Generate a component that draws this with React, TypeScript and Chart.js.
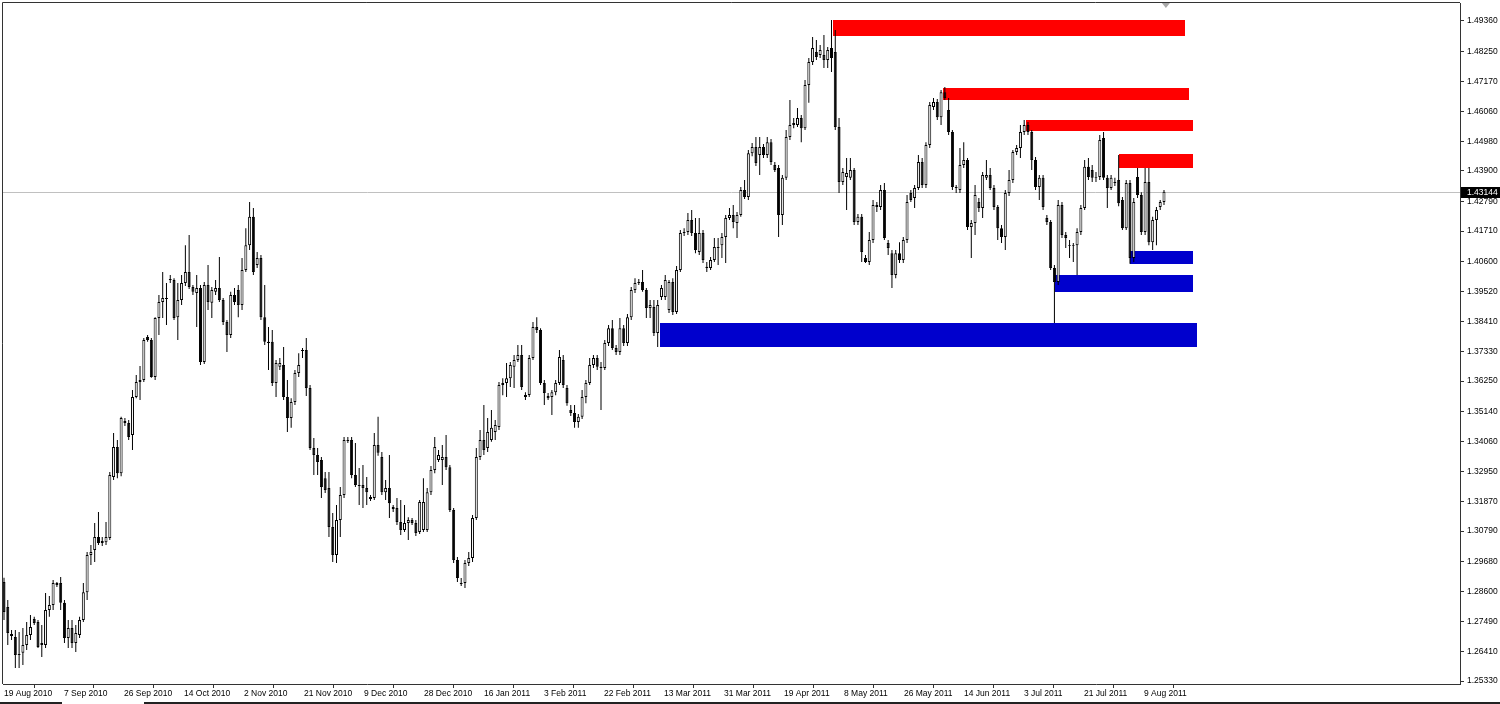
import { useEffect, useRef } from "react";
import { Chart, registerables } from "chart.js";

Chart.register(...registerables);

// ---- OHLC series (EURUSD daily, Aug 2010 - Aug 2011) ----
const openPrices = [
  1.2894,1.2803,1.2705,1.2694,1.2628,1.2636,1.2665,1.2701,1.2759,1.2748,
  1.2665,1.2665,1.2792,1.2810,1.2890,1.2890,1.2818,1.2690,1.2726,1.2672,
  1.2701,1.2756,1.2857,1.2992,1.3010,1.3058,1.3036,1.3039,1.3054,1.3276,
  1.3385,1.3290,1.3480,1.3473,1.3429,1.3567,1.3622,1.3629,1.3786,1.3775,
  1.3640,1.3855,1.3913,1.3924,1.3993,1.3993,1.3858,1.3920,1.3982,1.4022,
  1.3968,1.3946,1.3964,1.3695,1.3975,1.3910,1.3950,1.3964,1.3920,1.3840,
  1.3793,1.3939,1.3957,1.3902,1.4030,1.4120,1.4223,1.4048,1.4073,1.3858,
  1.3764,1.3768,1.3618,1.3677,1.3684,1.3567,1.3491,1.3549,1.3655,1.3735,
  1.3738,1.3600,1.3382,1.3356,1.3338,1.3272,1.3236,1.3094,1.2992,1.3120,
  1.3211,1.3407,1.3411,1.3283,1.3243,1.3247,1.3236,1.3203,1.3200,1.3393,
  1.3349,1.3221,1.3236,1.3167,1.3163,1.3112,1.3083,1.3109,1.3120,1.3109,
  1.3076,1.3083,1.3083,1.3221,1.3302,1.3338,1.3338,1.3349,1.3312,1.3156,
  1.2974,1.2887,1.2890,1.2963,1.2981,1.3127,1.3349,1.3411,1.3382,1.3411,
  1.3440,1.3458,1.3611,1.3618,1.3636,1.3677,1.3702,1.3720,1.3575,1.3575,
  1.3709,1.3822,1.3811,1.3618,1.3571,1.3567,1.3585,1.3618,1.3702,1.3600,
  1.3520,1.3509,1.3476,1.3495,1.3567,1.3618,1.3684,1.3709,1.3673,1.3673,
  1.3764,1.3818,1.3746,1.3731,1.3818,1.3764,1.3858,1.3957,1.3982,1.3986,
  1.3957,1.3891,1.3895,1.3800,1.3931,1.3931,1.3884,1.3986,1.3877,1.4030,
  1.4164,1.4168,1.4212,1.4164,1.4095,1.4164,1.4041,1.4037,1.4066,1.4110,
  1.4120,1.4150,1.4219,1.4230,1.4201,1.4230,1.4321,1.4295,1.4455,1.4477,
  1.4448,1.4477,1.4448,1.4495,1.4412,1.4401,1.4230,1.4365,1.4514,1.4557,
  1.4557,1.4583,1.4546,1.4703,1.4787,1.4823,1.4812,1.4812,1.4794,1.4838,
  1.4823,1.4550,1.4350,1.4368,1.4365,1.4394,1.4204,1.4223,1.4073,1.4059,
  1.4139,1.4259,1.4259,1.4321,1.4128,1.4091,1.4011,1.4091,1.4066,1.4139,
  1.4310,1.4292,1.4328,1.4423,1.4339,1.4485,1.4623,1.4641,1.4586,1.4677,
  1.4612,1.4532,1.4332,1.4321,1.4412,1.4430,1.4186,1.4201,1.4277,1.4255,
  1.4365,1.4375,1.4328,1.4259,1.4182,1.4150,1.4310,1.4357,1.4459,1.4474,
  1.4532,1.4557,1.4532,1.4430,1.4332,1.4365,1.4219,1.4204,1.4037,1.3986,
  1.4266,1.4157,1.4117,1.4117,1.4120,1.4168,1.4255,1.4405,1.4394,1.4365,
  1.4368,1.4510,1.4365,1.4328,1.4346,1.4357,1.4284,1.4182,1.4346,1.4073,
  1.4368,1.4303,1.4168,1.4350,1.4131,1.4212,1.4259,1.4277,
];

const highPrices = [
  1.2909,1.2828,1.2719,1.2719,1.2712,1.2726,1.2748,1.2774,1.2767,1.2756,
  1.2737,1.2854,1.2843,1.2901,1.2894,1.2912,1.2828,1.2756,1.2756,1.2737,
  1.2767,1.2890,1.3003,1.3029,1.3109,1.3149,1.3058,1.3112,1.3294,1.3436,
  1.3411,1.3495,1.3491,1.3484,1.3593,1.3647,1.3680,1.3782,1.3793,1.3782,
  1.3858,1.3939,1.4022,1.3982,1.4011,1.4000,1.3982,1.4011,1.4120,1.4157,
  1.3975,1.4011,1.3975,1.3986,1.4048,1.3968,1.3993,1.4077,1.3928,1.3848,
  1.3950,1.3964,1.3975,1.4073,1.4182,1.4277,1.4255,1.4095,1.4084,1.3975,
  1.3822,1.3811,1.3702,1.3709,1.3749,1.3629,1.3563,1.3666,1.3727,1.3746,
  1.3782,1.3611,1.3418,1.3382,1.3349,1.3294,1.3294,1.3145,1.3174,1.3240,
  1.3422,1.3422,1.3422,1.3400,1.3309,1.3320,1.3276,1.3211,1.3436,1.3495,
  1.3367,1.3265,1.3356,1.3174,1.3200,1.3192,1.3174,1.3130,1.3127,1.3120,
  1.3192,1.3272,1.3236,1.3316,1.3422,1.3374,1.3393,1.3429,1.3320,1.3163,
  1.2985,1.2908,1.2974,1.3003,1.3138,1.3382,1.3447,1.3538,1.3491,1.3520,
  1.3484,1.3622,1.3636,1.3691,1.3695,1.3720,1.3757,1.3757,1.3585,1.3720,
  1.3840,1.3858,1.3818,1.3629,1.3582,1.3593,1.3629,1.3738,1.3720,1.3611,
  1.3538,1.3538,1.3505,1.3593,1.3629,1.3709,1.3720,1.3720,1.3695,1.3775,
  1.3829,1.3848,1.3757,1.3855,1.3829,1.3869,1.3968,1.4000,1.3997,1.4030,
  1.3964,1.3920,1.3920,1.3920,1.3975,1.4011,1.3993,1.4000,1.4044,1.4175,
  1.4182,1.4237,1.4248,1.4219,1.4219,1.4175,1.4059,1.4077,1.4146,1.4146,
  1.4164,1.4230,1.4255,1.4266,1.4241,1.4332,1.4357,1.4466,1.4492,1.4514,
  1.4514,1.4488,1.4514,1.4506,1.4423,1.4412,1.4375,1.4539,1.4648,1.4583,
  1.4619,1.4594,1.4721,1.4801,1.4878,1.4867,1.4849,1.4885,1.4841,1.4940,
  1.4903,1.4583,1.4401,1.4437,1.4437,1.4401,1.4233,1.4233,1.4084,1.4168,
  1.4284,1.4277,1.4339,1.4346,1.4139,1.4102,1.4102,1.4131,1.4150,1.4303,
  1.4321,1.4339,1.4448,1.4437,1.4495,1.4641,1.4656,1.4652,1.4685,1.4696,
  1.4656,1.4539,1.4339,1.4474,1.4495,1.4437,1.4212,1.4339,1.4292,1.4386,
  1.4430,1.4401,1.4339,1.4266,1.4193,1.4321,1.4394,1.4466,1.4485,1.4557,
  1.4576,1.4568,1.4539,1.4441,1.4375,1.4375,1.4230,1.4212,1.4048,1.4284,
  1.4277,1.4168,1.4139,1.4128,1.4182,1.4266,1.4430,1.4437,1.4412,1.4386,
  1.4521,1.4532,1.4375,1.4375,1.4365,1.4448,1.4295,1.4357,1.4357,1.4292,
  1.4401,1.4313,1.4401,1.4401,1.4223,1.4259,1.4284,1.4321,
];

const lowPrices = [
  1.2756,1.2665,1.2683,1.2581,1.2581,1.2592,1.2646,1.2683,1.2737,1.2654,
  1.2621,1.2654,1.2767,1.2792,1.2876,1.2792,1.2672,1.2654,1.2654,1.2639,
  1.2690,1.2748,1.2828,1.2956,1.2967,1.3029,1.3025,1.3029,1.3047,1.3265,
  1.3272,1.3279,1.3462,1.3411,1.3374,1.3563,1.3556,1.3622,1.3768,1.3637,
  1.3629,1.3793,1.3855,1.3829,1.3982,1.3848,1.3775,1.3902,1.3971,1.3960,
  1.3939,1.3822,1.3684,1.3687,1.3884,1.3855,1.3939,1.3913,1.3829,1.3731,
  1.3782,1.3902,1.3858,1.3884,1.4022,1.4102,1.4011,1.4037,1.3848,1.3757,
  1.3666,1.3607,1.3567,1.3666,1.3556,1.3440,1.3455,1.3538,1.3640,1.3709,
  1.3571,1.3374,1.3283,1.3283,1.3200,1.3218,1.3058,1.2967,1.2963,1.3058,
  1.3200,1.3400,1.3272,1.3240,1.3174,1.3163,1.3174,1.3189,1.3192,1.3353,
  1.3211,1.3192,1.3127,1.3149,1.3101,1.3065,1.3076,1.3047,1.3101,1.3061,
  1.3069,1.3076,1.3076,1.3211,1.3290,1.3331,1.3247,1.3302,1.3149,1.2963,
  1.2894,1.2879,1.2872,1.2952,1.2967,1.3120,1.3338,1.3356,1.3367,1.3404,
  1.3411,1.3447,1.3574,1.3567,1.3604,1.3600,1.3695,1.3593,1.3556,1.3567,
  1.3702,1.3800,1.3611,1.3538,1.3556,1.3502,1.3574,1.3611,1.3600,1.3535,
  1.3498,1.3455,1.3455,1.3487,1.3545,1.3611,1.3673,1.3666,1.3520,1.3666,
  1.3753,1.3738,1.3720,1.3720,1.3753,1.3753,1.3848,1.3946,1.3975,1.3950,
  1.3855,1.3855,1.3789,1.3749,1.3920,1.3920,1.3873,1.3866,1.3869,1.4022,
  1.4153,1.4157,1.4153,1.4091,1.4084,1.4055,1.4022,1.4030,1.4059,1.4048,
  1.4073,1.4055,1.4212,1.4182,1.4146,1.4223,1.4288,1.4284,1.4444,1.4408,
  1.4375,1.4437,1.4437,1.4412,1.4386,1.4150,1.4193,1.4357,1.4503,1.4546,
  1.4550,1.4495,1.4539,1.4638,1.4776,1.4794,1.4801,1.4765,1.4765,1.4750,
  1.4539,1.4310,1.4339,1.4248,1.4357,1.4193,1.4193,1.4059,1.4055,1.4048,
  1.4128,1.4241,1.4248,1.4139,1.4084,1.3964,1.4000,1.4055,1.4055,1.4128,
  1.4277,1.4255,1.4321,1.4328,1.4328,1.4474,1.4612,1.4576,1.4557,1.4648,
  1.4521,1.4321,1.4310,1.4310,1.4401,1.4175,1.4073,1.4157,1.4241,1.4219,
  1.4357,1.4321,1.4248,1.4139,1.4128,1.4102,1.4299,1.4346,1.4448,1.4437,
  1.4521,1.4521,1.4394,1.4321,1.4284,1.4248,1.4193,1.4030,1.3837,1.3975,
  1.4146,1.4110,1.4073,1.4059,1.4011,1.4157,1.4248,1.4357,1.4350,1.4350,
  1.4357,1.4357,1.4255,1.4321,1.4335,1.4262,1.4175,1.4175,1.4052,1.4059,
  1.4292,1.4157,1.4157,1.4120,1.4102,1.4120,1.4248,1.4266,
];

const closePrices = [
  1.2785,1.2708,1.2697,1.2628,1.2632,1.2665,1.2701,1.2730,1.2745,1.2657,
  1.2672,1.2792,1.2810,1.2890,1.2883,1.2818,1.2690,1.2726,1.2672,1.2708,
  1.2756,1.2857,1.2992,1.3003,1.3058,1.3036,1.3043,1.3058,1.3283,1.3385,
  1.3290,1.3491,1.3473,1.3422,1.3567,1.3622,1.3629,1.3775,1.3775,1.3640,
  1.3855,1.3913,1.3928,1.3928,1.3997,1.3855,1.3920,1.3982,1.4022,1.3968,
  1.3950,1.3964,1.3695,1.3975,1.3913,1.3957,1.3964,1.3920,1.3840,1.3793,
  1.3939,1.3913,1.3902,1.4030,1.4120,1.4223,1.4022,1.4073,1.3858,1.3768,
  1.3768,1.3618,1.3691,1.3691,1.3567,1.3491,1.3549,1.3655,1.3684,1.3738,
  1.3600,1.3382,1.3356,1.3331,1.3240,1.3229,1.3094,1.2992,1.3120,1.3211,
  1.3411,1.3411,1.3283,1.3247,1.3247,1.3236,1.3221,1.3196,1.3393,1.3364,
  1.3221,1.3236,1.3181,1.3160,1.3112,1.3083,1.3109,1.3120,1.3109,1.3072,
  1.3185,1.3185,1.3221,1.3302,1.3385,1.3356,1.3349,1.3312,1.3156,1.2974,
  1.2908,1.2890,1.2963,1.2981,1.3127,1.3349,1.3411,1.3374,1.3440,1.3455,
  1.3465,1.3611,1.3618,1.3636,1.3684,1.3702,1.3720,1.3604,1.3567,1.3709,
  1.3822,1.3811,1.3618,1.3582,1.3563,1.3585,1.3618,1.3713,1.3611,1.3545,
  1.3509,1.3476,1.3495,1.3567,1.3618,1.3684,1.3709,1.3677,1.3677,1.3764,
  1.3818,1.3746,1.3731,1.3818,1.3764,1.3858,1.3957,1.3982,1.3986,1.3957,
  1.3891,1.3902,1.3800,1.3902,1.3964,1.3993,1.3986,1.3877,1.4030,1.4164,
  1.4168,1.4212,1.4164,1.4102,1.4164,1.4066,1.4037,1.4066,1.4113,1.4113,
  1.4150,1.4219,1.4230,1.4204,1.4230,1.4321,1.4295,1.4455,1.4477,1.4419,
  1.4477,1.4448,1.4495,1.4423,1.4394,1.4230,1.4365,1.4514,1.4557,1.4565,
  1.4583,1.4546,1.4703,1.4787,1.4838,1.4805,1.4830,1.4794,1.4830,1.4801,
  1.4550,1.4350,1.4386,1.4383,1.4394,1.4204,1.4223,1.4095,1.4059,1.4139,
  1.4266,1.4266,1.4321,1.4146,1.4110,1.4011,1.4091,1.4066,1.4139,1.4277,
  1.4284,1.4328,1.4423,1.4339,1.4485,1.4630,1.4641,1.4586,1.4677,1.4656,
  1.4532,1.4332,1.4328,1.4412,1.4430,1.4186,1.4201,1.4303,1.4255,1.4375,
  1.4375,1.4328,1.4259,1.4182,1.4150,1.4310,1.4357,1.4459,1.4474,1.4532,
  1.4557,1.4532,1.4430,1.4332,1.4365,1.4259,1.4204,1.4037,1.3986,1.4266,
  1.4157,1.4146,1.4120,1.4120,1.4168,1.4255,1.4405,1.4368,1.4365,1.4368,
  1.4503,1.4365,1.4328,1.4365,1.4350,1.4273,1.4182,1.4346,1.4073,1.4277,
  1.4303,1.4168,1.4350,1.4131,1.4212,1.4248,1.4277,1.43144,
];

// ---- axis labels ----
const xTickLabels = [
  "19 Aug 2010", "7 Sep 2010", "26 Sep 2010", "14 Oct 2010", "2 Nov 2010",
  "21 Nov 2010", "9 Dec 2010", "28 Dec 2010", "16 Jan 2011", "3 Feb 2011",
  "22 Feb 2011", "13 Mar 2011", "31 Mar 2011", "19 Apr 2011", "8 May 2011",
  "26 May 2011", "14 Jun 2011", "3 Jul 2011", "21 Jul 2011", "9 Aug 2011",
];
const yTickValues = [
  1.4936, 1.4825, 1.4717, 1.4606, 1.4498, 1.4390, 1.4279, 1.4171, 1.4060,
  1.3952, 1.3841, 1.3733, 1.3625, 1.3514, 1.3406, 1.3295, 1.3187, 1.3079,
  1.2968, 1.2860, 1.2749, 1.2641, 1.2533,
];
const currentPrice = 1.43144;

// ---- supply / demand zones (bar index range, price range) ----
const zoneStart = [219.4, 248.5, 270.5, 295.1, 298.0, 278.2, 173.6];
const zoneEnd = [312.6, 313.6, 314.7, 314.7, 314.7, 314.7, 315.7];
const zoneTop = [1.4940, 1.4692, 1.4576, 1.4452, 1.4099, 1.4011, 1.3837];
const zoneBottom = [1.4881, 1.4648, 1.4536, 1.4401, 1.4051, 1.3950, 1.3749];
const zoneKind = ["supply", "supply", "supply", "supply", "demand", "demand", "demand"];

const FONT = "'Liberation Sans', Arial, sans-serif";
const LABEL_STEP = 15.879; // bars between date labels
const X_MIN = -0.265;
const X_MAX = 385.34;
const Y_MIN = 1.25226;
const Y_MAX = 1.50015;

export default function App() {
  const ref = useRef<HTMLCanvasElement>(null);

  useEffect(() => {
    const canvas = ref.current;
    if (!canvas) return;
    const n = closePrices.length;
    const idx = closePrices.map((_, i) => i);
    const bull = idx.map((i) => closePrices[i] >= openPrices[i]);
    const bodies = idx.map((i) => ({
      x: i,
      y: [Math.min(openPrices[i], closePrices[i]), Math.max(openPrices[i], closePrices[i])],
    }));
    const wicks = idx.map((i) => ({ x: i, y: [lowPrices[i], highPrices[i]] }));

    const overlay = {
      id: "overlay",
      beforeDatasetsDraw(chart: any) {
        const { ctx, chartArea: a } = chart;
        const xs = chart.scales.x;
        const ys = chart.scales.y;
        ctx.save();
        ctx.beginPath();
        ctx.rect(a.left, a.top, a.right - a.left, a.bottom - a.top);
        ctx.clip();
        const py = Math.round(ys.getPixelForValue(currentPrice)) + 0.5;
        ctx.strokeStyle = "#c0c0c0";
        ctx.lineWidth = 1;
        ctx.beginPath();
        ctx.moveTo(a.left, py);
        ctx.lineTo(a.right, py);
        ctx.stroke();
        zoneStart.forEach((s, k) => {
          const x0 = Math.round(xs.getPixelForValue(s));
          const x1 = Math.round(xs.getPixelForValue(zoneEnd[k]));
          const y0 = Math.round(ys.getPixelForValue(zoneTop[k]));
          const y1 = Math.round(ys.getPixelForValue(zoneBottom[k]));
          ctx.fillStyle = zoneKind[k] === "supply" ? "#ff0000" : "#0000cd";
          ctx.fillRect(x0, y0, x1 - x0, y1 - y0);
        });
        ctx.restore();
      },
      afterDraw(chart: any) {
        const { ctx, chartArea: a } = chart;
        const xs = chart.scales.x;
        const ys = chart.scales.y;
        ctx.save();
        // frame (top & left)
        ctx.strokeStyle = "#333";
        ctx.lineWidth = 1;
        ctx.beginPath();
        ctx.moveTo(a.left - 0.5, a.bottom);
        ctx.lineTo(a.left - 0.5, a.top - 0.5);
        ctx.lineTo(a.right, a.top - 0.5);
        ctx.stroke();
        // current price box
        const py = Math.round(ys.getPixelForValue(currentPrice));
        ctx.fillStyle = "#000";
        ctx.fillRect(a.right + 1, py - 5, 40, 11);
        ctx.fillStyle = "#fff";
        ctx.font = `8.5px ${FONT}`;
        ctx.textBaseline = "middle";
        ctx.textAlign = "left";
        ctx.fillText(currentPrice.toFixed(5), a.right + 7, py + 0.5);
        // chart shift marker
        const cx = xs.getPixelForValue(n - 0.5);
        ctx.fillStyle = "#a8a8a8";
        ctx.beginPath();
        ctx.moveTo(cx - 4, a.top);
        ctx.lineTo(cx + 4, a.top);
        ctx.lineTo(cx, a.top + 5);
        ctx.closePath();
        ctx.fill();
        // bottom strip
        ctx.fillStyle = "#222";
        ctx.fillRect(0, 702, 62, 2);
        ctx.fillRect(144, 702, 1356, 2);
        ctx.restore();
      },
    };

    const chart = new Chart(canvas, {
      type: "bar",
      data: {
        datasets: [
          {
            data: wicks as any,
            barThickness: 1,
            backgroundColor: "#000",
            borderWidth: 0,
            grouped: false,
            order: 2,
            inflateAmount: 0,
          } as any,
          {
            data: bodies as any,
            barThickness: 3,
            backgroundColor: bull.map((b) => (b ? "#fff" : "#000")),
            borderColor: "#000",
            borderWidth: 1,
            borderSkipped: false,
            grouped: false,
            order: 1,
            inflateAmount: 0,
          } as any,
        ],
      },
      options: {
        responsive: false,
        animation: false,
        devicePixelRatio: 1,
        layout: { padding: { top: 3, left: 3, right: 0, bottom: 0 } },
        plugins: { legend: { display: false }, tooltip: { enabled: false } },
        scales: {
          x: {
            type: "linear",
            min: X_MIN,
            max: X_MAX,
            offset: false,
            grid: { drawOnChartArea: false, drawTicks: true, tickLength: 4, color: "#333" },
            border: { display: true, color: "#333" },
            afterBuildTicks: (s: any) => {
              s.ticks = xTickLabels.map((_, j) => ({ value: j * LABEL_STEP }));
            },
            afterFit: (s: any) => {
              s.height = 20;
              s.paddingLeft = 0;
              s.paddingRight = 0;
            },
            ticks: {
              autoSkip: false,
              maxRotation: 0,
              minRotation: 0,
              align: "start",
              padding: 1,
              color: "#000",
              font: { family: FONT, size: 8.5 },
              callback: (_v: any, i: number) => xTickLabels[i] ?? "",
            },
          } as any,
          y: {
            type: "linear",
            position: "right",
            min: Y_MIN,
            max: Y_MAX,
            grid: { drawOnChartArea: false, drawTicks: true, tickLength: 4, color: "#333" },
            border: { display: true, color: "#333" },
            afterBuildTicks: (s: any) => {
              s.ticks = yTickValues.map((v) => ({ value: v }));
            },
            afterFit: (s: any) => {
              s.width = 40;
              s.paddingTop = 0;
              s.paddingBottom = 0;
            },
            ticks: {
              autoSkip: false,
              padding: 3,
              color: "#000",
              font: { family: FONT, size: 8.5 },
              callback: (v: any) => Number(v).toFixed(5),
            },
          } as any,
        },
      },
      plugins: [overlay],
    });

    return () => chart.destroy();
  }, []);

  return (
    <div style={{ position: "fixed", left: 0, top: 0, width: 1500, height: 704, background: "#fff" }}>
      <canvas ref={ref} width={1500} height={704} style={{ display: "block" }} />
    </div>
  );
}
